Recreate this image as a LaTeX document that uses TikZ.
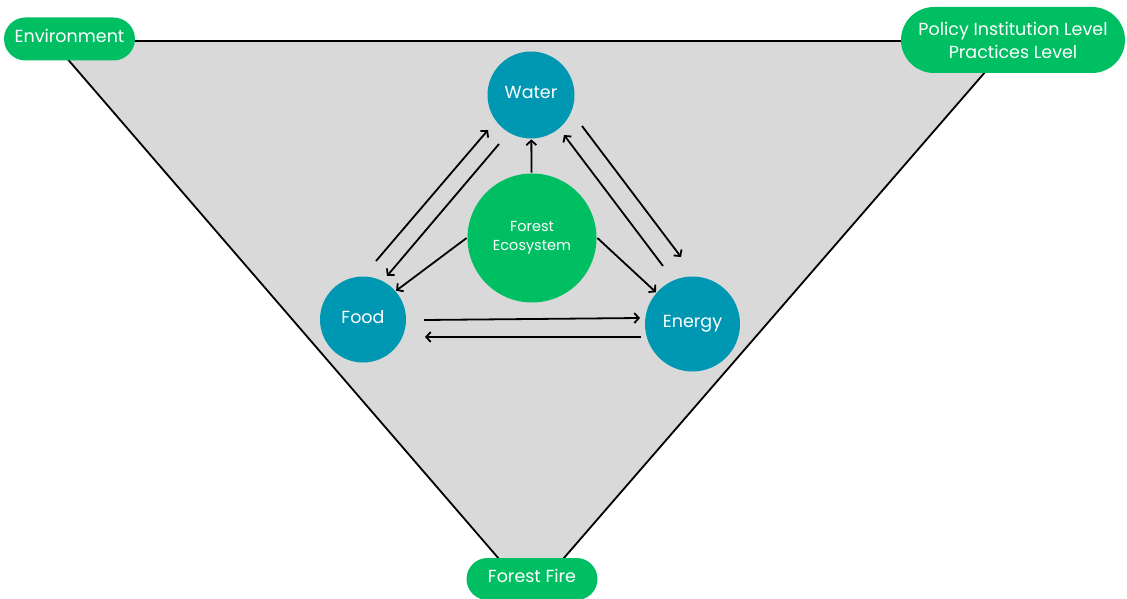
\documentclass[tikz,border=0pt]{standalone}
\usepackage{fontspec}
\setmainfont{Poppins}
\usetikzlibrary{arrows.meta}
\usetikzlibrary{shapes.misc}
\definecolor{leaf}{HTML}{00BF63}
\definecolor{sea}{HTML}{0097B2}
\definecolor{ash}{HTML}{D9D9D9}

\begin{document}
\begin{tikzpicture}[x=1pt,y=-1pt,
            -{Straight Barb[length=4.5pt,width=10pt]},
            line width=1.8pt,
            pill/.style = {rounded rectangle,fill=leaf,text=white,align=center,
                inner sep=0pt,font=\fontsize{17.5}{23}\selectfont},
            ball/.style = {circle,fill=sea,text=white,align=center,
                inner sep=0pt,font=\fontsize{17.5}{21}\selectfont},
            lift/.style = {text height=0.8em,text depth=0.1em}]
            \useasboundingbox (0,0) rectangle (1127,599);
            \fill[-, ash, draw=black] (52,41) -- (1012,41) -- (531,596) -- cycle;
            \node[pill, lift, minimum width=131pt, minimum height=43pt](env) at (69.5,39) {Environment};
            \node[pill, minimum width=224pt, minimum height=66pt](policy) at (1013,40) {Policy Institution Level\\Practices Level};
            \node[pill, lift, minimum width=131pt, minimum height=42pt](fire) at (532,579) {Forest Fire};
            \node[ball, lift, minimum size=87pt](water) at (531,95) {Water};
            \node[ball, fill=leaf, minimum size=129pt,
                font=\fontsize{14.5}{19}\selectfont](forest) at (532,238) {Forest\\Ecosystem};
            \node[ball, lift, minimum size=86pt](food) at (363,319.5) {Food};
            \node[ball, lift, minimum size=95pt](energy) at (692.5,324) {Energy};
            \path[]
                ([shift={(13,-58.5)}]food.center) edge ([shift={(-43,35)}]water.center)
                ([shift={(-32,49)}]water.center) edge ([shift={(24,-43.5)}]food.center)
                (forest) edge (water)
                (forest.west) edge (food.41)
                (forest.east) edge (energy.139)
                ([shift={(51,31)}]water.center) edge ([shift={(-11.5,-67)}]energy.center)
                ([shift={(-29.5,-58)}]energy.center) edge ([shift={(33,40)}]water.center)
                ([shift={(61,0.5)}]food.center) edge ([shift={(-52.5,-6)}]energy.center)
                ([shift={(-51.5,13)}]energy.center) edge ([shift={(62,17.5)}]food.center);
        \end{tikzpicture}
\end{document}
